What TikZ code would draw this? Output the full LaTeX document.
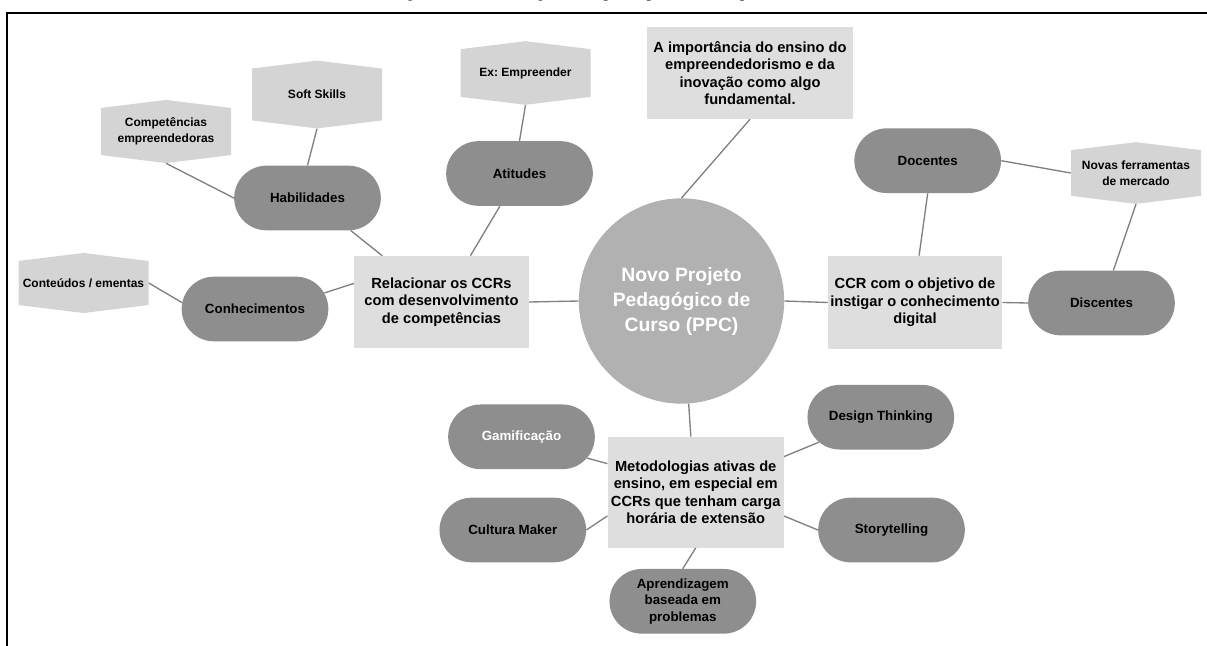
\documentclass[tikz,border=0pt]{standalone}
\usepackage{fontspec}
\setmainfont{Liberation Sans}
\frenchspacing
\usetikzlibrary{shapes.misc,shapes.symbols}
\definecolor{boxgray}{RGB}{222,222,222}
\definecolor{hexgray}{RGB}{212,212,212}
\definecolor{pillgray}{RGB}{142,142,142}
\definecolor{circgray}{RGB}{177,177,177}
\definecolor{linkgray}{RGB}{128,128,128}
\tikzset{
pill/.style={rounded rectangle, fill=pillgray, minimum width=112pt, minimum height=48.5pt,
  inner sep=1pt, align=center, font=\bfseries\fontsize{10}{12.2}\selectfont},
hexa/.style={signal, signal to=north and south, signal pointer angle=166, fill=hexgray,
  minimum width=97.5pt, minimum height=44.5pt, inner sep=1pt, align=center,
  font=\bfseries\fontsize{9}{11.7}\selectfont},
box/.style={rectangle, fill=boxgray, inner sep=1pt, align=center,
  font=\bfseries\fontsize{11}{13.2}\selectfont},
link/.style={draw=linkgray, line width=1pt}
}

\begin{document}
\begin{tikzpicture}[x=0.75pt,y=-0.75pt]
\useasboundingbox (0,0) rectangle (1207,646);
\begin{scope}
\clip (0,0) rectangle (1207,11);
\node[anchor=base, inner sep=0, font=\bfseries\fontsize{20}{22}\selectfont] (titulo) at (611,-4)
{Ilustração 11 – Ações propostas para o curso};
\end{scope}
\draw[line width=1.5pt] (1207,12.7) -- (7.3,12.7) -- (7.3,646);

\node[circle, fill=circgray, minimum size=154pt, inner sep=0, text=white, align=center,
font=\bfseries\fontsize{14.5}{18.75}\selectfont] (ppc) at (681.5,301)
{Novo Projeto\\Pedagógico de\\Curso (PPC)};

\node[box, minimum width=131pt, minimum height=69pt] (rel) at (441.5,302)
{Relacionar os CCRs\\com desenvolvimento\\de competências};
\node[box, minimum width=154.5pt, minimum height=69pt] (imp) at (750,73)
{A importância do ensino do\\empreendedorismo e da\\inovação como algo\\fundamental.};
\node[box, minimum width=130.5pt, minimum height=70pt] (ccr) at (915,302.5)
{CCR com o objetivo de\\instigar o conhecimento\\digital};
\node[box, minimum width=132pt, minimum height=83pt] (met) at (695.7,492.3)
{Metodologias ativas de\\ensino, em especial em\\CCRs que tenham carga\\horária de extensão};

\node[pill] (hab) at (307.5,198) {Habilidades};
\node[pill] (atit) at (519.5,173.5) {Atitudes};
\node[pill] (conh) at (255,309) {Conhecimentos};
\node[pill] (doc) at (927.7,160.7) {Docentes};
\node[pill] (disc) at (1101.5,303) {Discentes};
\node[pill, text=white] (gam) at (521.5,436.8) {Gamificação};
\node[pill] (cult) at (512.8,530) {Cultura Maker};
\node[pill] (dt) at (880.8,417.2) {Design Thinking};
\node[pill] (story) at (891.5,530) {Storytelling};
\node[pill] (apr) at (682.8,601.3) {Aprendizagem\\baseada em\\problemas};

\node[hexa] (soft) at (317,94.5) {Soft Skills};
\node[hexa] (comp) at (166,131.5) {Competências\\empreendedoras};
\node[hexa] (ex) at (525.5,73) {Ex: Empreender};
\node[hexa] (cont) at (83.5,283) {Conteúdos / ementas};
\node[hexa] (novas) at (1136,173) {Novas ferramentas\\de mercado};

\foreach \a/\b in
{
comp.south/hab.west, soft.south/hab.north, hab.-37/rel.142,
ex.south/atit.north, atit.-121/rel.58, cont.east/conh.175,
conh.13/rel.168, rel.east/ppc.west, imp.south/ppc.north,
ppc.east/ccr.west, doc.south/ccr.85, doc.east/novas.west,
novas.south/disc.70, ccr.east/disc.west, ppc.-86/met.95,
gam.-18/met.162, cult.east/met.195, met.22/dt.202,
met.-15/story.west, met.south/apr.north}
\draw[link] (\a) -- (\b);
\end{tikzpicture}
\end{document}
